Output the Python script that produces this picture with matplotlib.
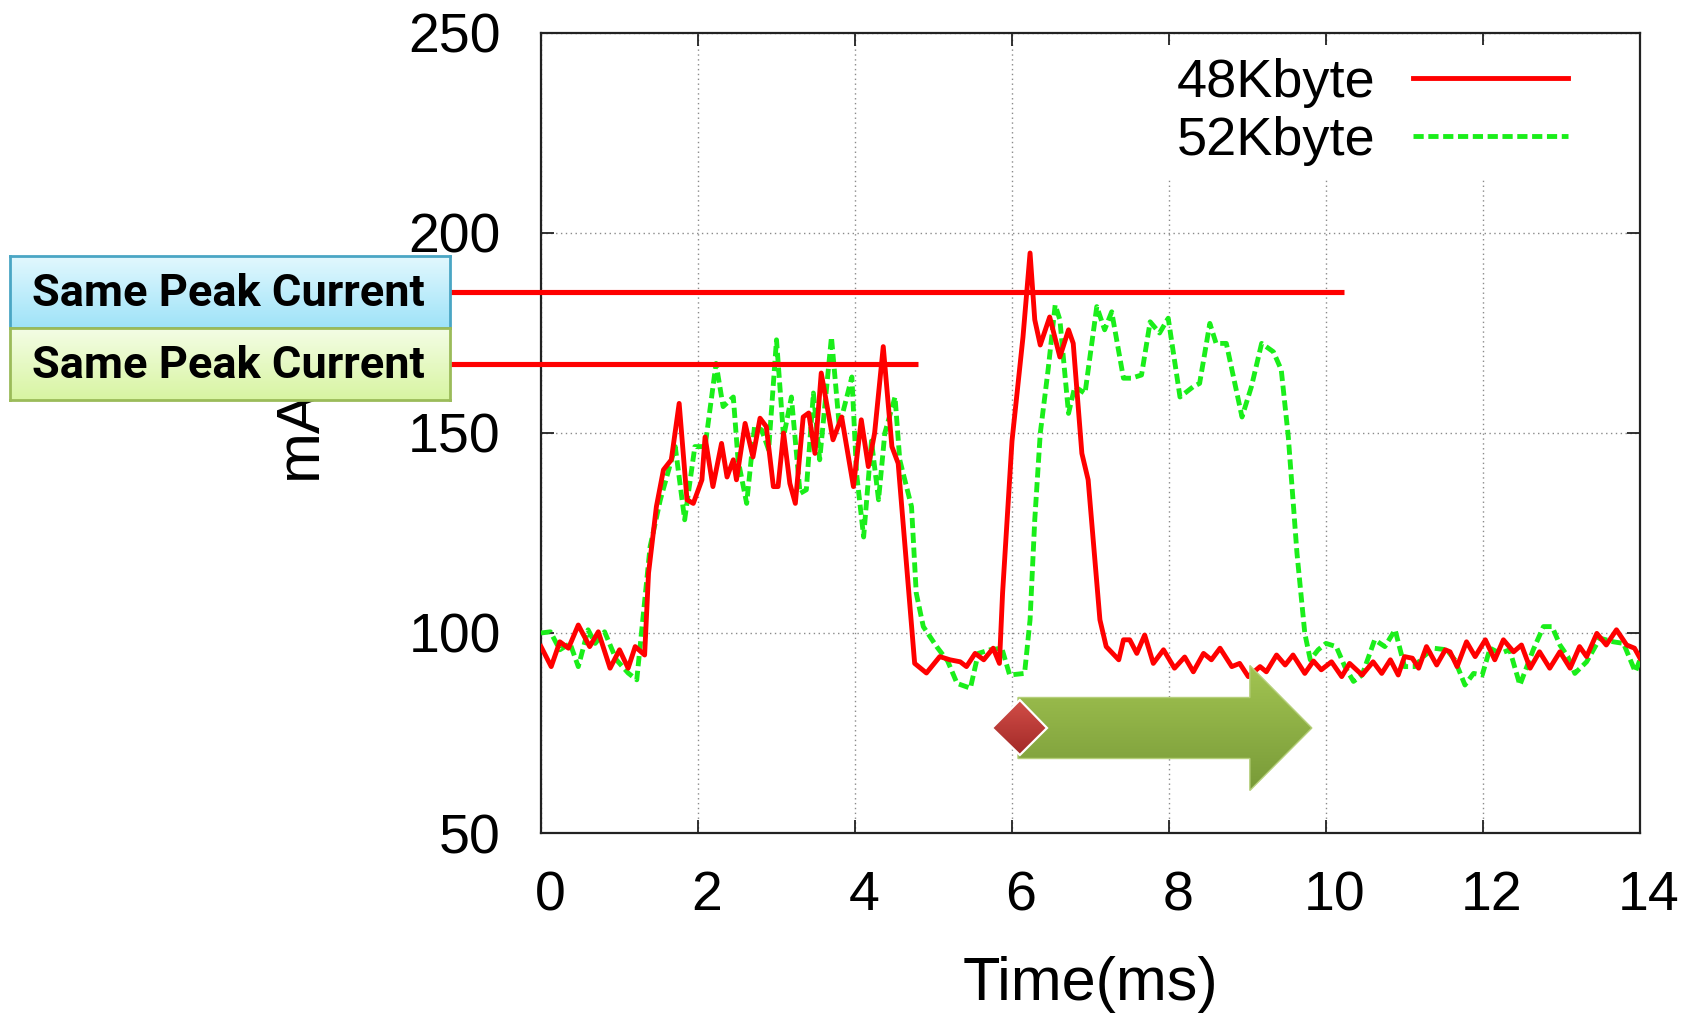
import numpy as np
import matplotlib
matplotlib.use("Agg")
import matplotlib.pyplot as plt
from matplotlib.patches import Polygon, FancyArrow
from matplotlib.colors import LinearSegmentedColormap
from matplotlib.lines import Line2D
import matplotlib.transforms as mtransforms

# ---------------- data ----------------
t48 = [0, 0.13, 0.24, 0.35, 0.475, 0.62, 0.73, 0.88, 1.0, 1.11, 1.2, 1.32, 1.37, 1.47,
       1.56, 1.66, 1.76, 1.86, 1.94, 2.05, 2.09, 2.19, 2.30, 2.37, 2.45, 2.49, 2.60, 2.70,
       2.79, 2.87, 2.96, 3.02, 3.09, 3.17, 3.24, 3.34, 3.41, 3.49, 3.57, 3.72, 3.83, 3.98,
       4.08, 4.17, 4.25, 4.36, 4.47, 4.55, 4.76, 4.91, 5.08, 5.21, 5.34, 5.42, 5.53, 5.64,
       5.76, 5.84, 5.88, 6.0, 6.14, 6.23, 6.29, 6.36, 6.48, 6.61, 6.72, 6.78, 6.89, 6.97,
       7.12, 7.20, 7.36, 7.42, 7.50, 7.59, 7.69, 7.80, 7.93, 8.07, 8.20, 8.31, 8.44, 8.54,
       8.65, 8.80, 8.90, 9.01, 9.16, 9.24, 9.37, 9.48, 9.58, 9.73, 9.84, 9.94, 10.07, 10.20,
       10.30, 10.46, 10.60, 10.71, 10.82, 10.92, 11.0, 11.10, 11.18, 11.28, 11.41, 11.52,
       11.58, 11.67, 11.79, 11.90, 12.03, 12.15, 12.26, 12.39, 12.49, 12.60, 12.72, 12.85,
       12.98, 13.11, 13.23, 13.32, 13.45, 13.57, 13.70, 13.83, 13.93, 14.0]
v48 = [96.6, 91.6, 97.8, 96.2, 102.0, 96.6, 100.3, 91.2, 95.8, 91.2, 96.6, 94.5, 115.0, 131.6,
       140.8, 143.3, 157.4, 133.3, 132.4, 138.3, 149.0, 136.6, 147.4, 139.0, 143.3, 138.3, 152.4, 144.0,
       153.7, 151.6, 136.6, 136.6, 150.0, 137.4, 132.4, 154.0, 155.0, 144.9, 165.0, 148.3, 154.0, 136.6,
       153.3, 141.6, 150.0, 171.6, 146.6, 142.4, 92.4, 90.0, 94.1, 93.3, 92.8, 91.6, 94.9, 93.3,
       96.2, 92.4, 110.0, 148.0, 174.0, 195.0, 178.3, 172.0, 179.0, 169.0, 175.8, 172.4, 144.9, 138.3,
       103.3, 96.6, 93.3, 98.3, 98.3, 94.9, 99.5, 92.4, 95.8, 91.2, 94.0, 90.3, 94.9, 93.3,
       96.2, 91.6, 92.4, 89.1, 91.6, 90.3, 94.5, 92.0, 94.5, 89.9, 93.0, 90.8, 92.8, 89.1,
       92.4, 89.5, 92.8, 89.9, 93.3, 89.5, 94.1, 93.7, 91.2, 96.6, 92.0, 95.8,
       95.3, 91.6, 97.8, 94.1, 98.3, 93.3, 98.3, 95.3, 97.0, 91.2, 95.3, 91.2,
       95.3, 91.2, 96.6, 94.1, 99.9, 97.0, 100.8, 97.0, 96.2, 93.7]

t52 = [0, 0.12, 0.24, 0.37, 0.475, 0.60, 0.69, 0.81, 0.96, 1.11, 1.22, 1.39, 1.52, 1.71,
       1.83, 1.96, 2.09, 2.23, 2.32, 2.45, 2.51, 2.62, 2.72, 2.81, 2.90, 3.0, 3.09, 3.19,
       3.30, 3.38, 3.47, 3.55, 3.70, 3.80, 3.96, 4.02, 4.11, 4.21, 4.30, 4.38, 4.51, 4.57,
       4.72, 4.78, 4.87, 5.04, 5.18, 5.30, 5.47, 5.57, 5.72, 5.87, 5.97, 6.16, 6.23, 6.29,
       6.36, 6.46, 6.55, 6.61, 6.72, 6.80, 6.93, 7.08, 7.18, 7.27, 7.42, 7.52, 7.65, 7.76,
       7.88, 7.99, 8.14, 8.31, 8.39, 8.52, 8.60, 8.73, 8.93, 9.05, 9.18, 9.33, 9.43, 9.52,
       9.63, 9.73, 9.80, 9.90, 10.0, 10.13, 10.24, 10.35, 10.46, 10.62, 10.75, 10.88, 11.0,
       11.13, 11.24, 11.37, 11.54, 11.64, 11.77, 11.88, 11.99, 12.09, 12.22, 12.34, 12.47,
       12.64, 12.77, 12.88, 12.98, 13.08, 13.17, 13.32, 13.49, 13.66, 13.79, 13.94, 14.0]
v52 = [100.0, 100.3, 95.8, 97.4, 91.6, 100.8, 97.4, 100.3, 93.3, 90.0, 88.3, 121.6, 133.3, 146.6,
       128.3, 146.6, 146.6, 167.4, 156.6, 159.0, 143.3, 132.4, 151.6, 150.8, 145.8, 173.3, 149.0, 159.0,
       134.9, 135.8, 160.0, 143.3, 174.0, 151.6, 164.0, 139.9, 124.0, 148.0, 133.3, 150.0, 159.0, 143.3,
       131.6, 110.0, 101.6, 96.6, 93.0, 87.4, 86.2, 94.9, 95.8, 96.2, 89.5, 89.9, 103.3, 128.3,
       149.9, 165.8, 182.0, 178.3, 154.9, 161.6, 159.9, 181.6, 175.8, 180.3, 163.7, 163.7, 164.5, 177.8,
       175.0, 178.7, 159.0, 161.6, 162.4, 177.4, 172.4, 172.4, 154.0, 161.6, 172.4, 170.3, 165.8, 149.0,
       120.0, 99.9, 93.3, 95.8, 97.4, 96.6, 91.6, 87.9, 89.5, 98.3, 96.6, 100.8, 91.6,
       91.6, 94.1, 96.2, 95.8, 93.3, 87.0, 89.9, 89.5, 96.2, 94.9, 95.8, 87.0,
       95.8, 101.6, 101.6, 97.0, 94.1, 89.9, 92.8, 98.7, 97.8, 97.4, 90.3, 93.3]

series_labels = ["48Kbyte", "52Kbyte"]
x_ticks = [0, 2, 4, 6, 8, 10, 12, 14]
y_ticks = [50, 100, 150, 200, 250]
x_label = "Time(ms)"
y_label = "mA"
note_text = "Same Peak Current"
peak_levels = [185.25, 167.25]          # annotated peak current lines (mA)
peak_line_x = [(-1.16, 10.23), (-1.16, 4.80)]   # extent of the annotation lines (ms)

# ---------------- figure ----------------
W, H = 1687, 1015
fig = plt.figure(figsize=(W / 100, H / 100), dpi=100)
fig.patch.set_facecolor("white")
ax = fig.add_axes([541 / W, 182 / H, 1099 / W, 800 / H])

red = "#ff0000"
green = "#1aee1a"
LW = 3.5
green_ls = (0, (2.1, 0.95))
ax.plot(t48, v48, color=red, lw=LW, zorder=3)
ax.plot(t52, v52, color=green, lw=LW, ls=green_ls, zorder=2.9)

ax.set_xlim(0, 14)
ax.set_ylim(50, 250)
ax.set_xticks(x_ticks)
ax.set_yticks(y_ticks)
ax.set_xticklabels([str(v) for v in x_ticks])
ax.set_yticklabels([str(v) for v in y_ticks])

tick_font = "Liberation Sans"
ax.tick_params(axis="both", direction="in", top=True, right=True, length=9.5, width=1.3,
               color="#222222", labelsize=40)
ax.tick_params(axis="y", pad=29)
ax.tick_params(axis="x", pad=27)
for lab in ax.get_xticklabels() + ax.get_yticklabels():
    lab.set_fontfamily(tick_font)
offset = mtransforms.ScaledTranslation(6.5 / 72, 0, fig.dpi_scale_trans)
for lab in ax.get_xticklabels():
    lab.set_transform(lab.get_transform() + offset)

for s in ax.spines.values():
    s.set_linewidth(1.6)
    s.set_color("#222222")

ax.grid(True, linestyle=(0, (1, 2.5)), color="#8a8a8a", lw=1.0)
ax.set_axisbelow(True)

ax.set_xlabel(x_label, fontsize=44, fontfamily=tick_font)
ax.xaxis.set_label_coords(0.5, -0.209)
ax.xaxis.label.set_va("baseline")
ax.set_ylabel(y_label, fontsize=44, fontfamily=tick_font)
ax.yaxis.set_label_coords(-0.219, 0.5)
ax.yaxis.label.set_va("center")

# legend (text left of sample line, like gnuplot)
handles = [Line2D([], [], color=red, lw=LW),
           Line2D([], [], color=green, lw=LW, ls=green_ls)]
leg = ax.legend(handles, series_labels, loc="center right", bbox_to_anchor=(0.947, 0.901),
                markerfirst=False, frameon=True, fancybox=False, framealpha=1.0,
                edgecolor="none", facecolor="white", borderpad=0.25, borderaxespad=0,
                handlelength=2.86, handletextpad=0.70, labelspacing=0.14,
                prop={"family": tick_font, "size": 39})
leg.set_zorder(4)

# ---------------- block arrow with diamond ----------------
def gradient_fill(patch, top, bottom, extent, z):
    cmap = LinearSegmentedColormap.from_list("g", [top, bottom])
    grad = np.linspace(0, 1, 256).reshape(-1, 1)
    im = ax.imshow(grad, extent=extent, aspect="auto", cmap=cmap, origin="upper",
                   zorder=z, interpolation="bilinear")
    im.set_clip_path(patch)

arrow = FancyArrow(6.076, 76.25, 3.744, 0, width=15.25, head_width=31.25, head_length=0.79,
                   length_includes_head=True, facecolor="none", edgecolor="#b5cf7a",
                   lw=1.0, zorder=5.1)
ax.add_patch(arrow)
gradient_fill(arrow, "#a3c552", "#789a38", [6.0, 9.9, 60.5, 92.5], 5)

diamond = Polygon([[5.745, 76.25], [6.10, 83.25], [6.446, 76.25], [6.10, 69.5]], closed=True,
                  facecolor="none", edgecolor="white", lw=1.6, zorder=5.3)
ax.add_patch(diamond)
gradient_fill(diamond, "#d34e48", "#a22a28", [5.74, 6.45, 69.5, 83.3], 5.2)

ax.set_xlim(0, 14)
ax.set_ylim(50, 250)

# ---------------- annotation lines ----------------
for (x0, x1), y in zip(peak_line_x, peak_levels):
    ax.plot([x0, x1], [y, y], color=red, lw=3.7, clip_on=False, zorder=10,
            solid_capstyle="butt")

# ---------------- annotation boxes ----------------
def note_box(rect, top, bottom, edge):
    bax = fig.add_axes(rect)
    cmap = LinearSegmentedColormap.from_list("b", [top, bottom])
    bax.imshow(np.linspace(0, 1, 64).reshape(-1, 1), aspect="auto", cmap=cmap,
               extent=[0, 1, 0, 1], origin="upper", interpolation="bilinear")
    bax.set_xlim(0, 1)
    bax.set_ylim(0, 1)
    bax.set_xticks([])
    bax.set_yticks([])
    for s in bax.spines.values():
        s.set_color(edge)
        s.set_linewidth(2.0)
    bax.text(0.497, 0.47, note_text, ha="center", va="center", fontsize=32.5,
             fontweight="bold", fontfamily="Roboto", color="black")
    return bax

note_box([10 / W, (H - 328) / H, 440 / W, 72 / H], "#e2f8fe", "#9fe3f8", "#4aa6c4")
note_box([10 / W, (H - 400) / H, 440 / W, 72 / H], "#f4fde6", "#d8f5a2", "#9bbb59")

fig.savefig("out.png", dpi=100, facecolor="white")
